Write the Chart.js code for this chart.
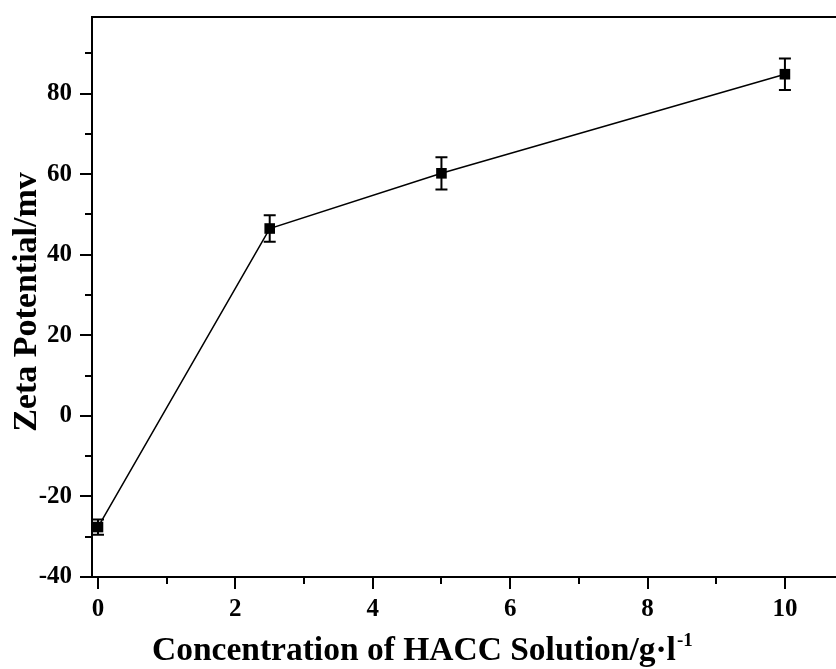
<!DOCTYPE html>
<html><head><meta charset="utf-8">
<script src="https://cdn.jsdelivr.net/npm/chart.js@4/dist/chart.umd.min.js"></script>
<style>html,body{margin:0;padding:0;overflow:hidden;background:#fff}#wrap{width:846px;height:669px;position:relative}</style>
</head><body><div id="wrap"><canvas id="c" width="846" height="669"></canvas></div>
<script>
const concentrations = [0, 2.5, 5, 10];
const zeta = [-27.6, 46.5, 60.2, 84.8];
const zetaErr = [1.9, 3.3, 4.0, 3.9];
const xTickValues = [0, 2, 4, 6, 8, 10];
const xMinorTicks = [1, 3, 5, 7, 9];
const yTickValues = [-40, -20, 0, 20, 40, 60, 80];
const yMinorTicks = [-30, -10, 10, 30, 50, 70, 90];
const xTitle = 'Concentration of HACC Solution/g\u00B7l';
const xTitleSup = '-1';
const yTitle = 'Zeta Potential/mv';

const FONT = '"Liberation Serif", "Times New Roman", serif';

const decor = {
  id: 'decor',
  beforeDatasetsDraw(chart) {
    const ctx = chart.ctx, xs = chart.scales.x, ys = chart.scales.y, a = chart.chartArea;
    ctx.save();
    ctx.strokeStyle = '#000';
    ctx.lineWidth = 2;
    // top border
    ctx.beginPath(); ctx.moveTo(a.left - 1, a.top); ctx.lineTo(a.right + 10, a.top); ctx.stroke();
    // ticks
    ctx.beginPath();
    xTickValues.forEach(v => { const p = Math.round(xs.getPixelForValue(v)); ctx.moveTo(p, a.bottom); ctx.lineTo(p, a.bottom + 12); });
    xMinorTicks.forEach(v => { const p = Math.round(xs.getPixelForValue(v)); ctx.moveTo(p, a.bottom); ctx.lineTo(p, a.bottom + 7); });
    yTickValues.forEach(v => { const p = Math.round(ys.getPixelForValue(v)); ctx.moveTo(a.left, p); ctx.lineTo(a.left - 12, p); });
    yMinorTicks.forEach(v => { const p = Math.round(ys.getPixelForValue(v)); ctx.moveTo(a.left, p); ctx.lineTo(a.left - 7, p); });
    ctx.stroke();
    // error bars
    ctx.lineWidth = 2;
    ctx.beginPath();
    concentrations.forEach((c, i) => {
      const px = xs.getPixelForValue(c);
      const top = ys.getPixelForValue(zeta[i] + zetaErr[i]);
      const bot = ys.getPixelForValue(zeta[i] - zetaErr[i]);
      ctx.moveTo(px, top); ctx.lineTo(px, bot);
      ctx.moveTo(px - 6, top); ctx.lineTo(px + 6, top);
      ctx.moveTo(px - 6, bot); ctx.lineTo(px + 6, bot);
    });
    ctx.stroke();
    ctx.restore();
  },
  afterDraw(chart) {
    const ctx = chart.ctx;
    ctx.save();
    ctx.fillStyle = '#000';
    // x title
    ctx.font = 'bold 33.5px ' + FONT;
    ctx.textAlign = 'left';
    ctx.textBaseline = 'alphabetic';
    const x0 = 152, base = 660;
    ctx.fillText(xTitle, x0, base);
    const w = ctx.measureText(xTitle).width;
    ctx.font = 'bold 19px ' + FONT;
    ctx.fillText(xTitleSup, x0 + w + 1, base - 14);
    // y title
    ctx.font = 'bold 34px ' + FONT;
    ctx.translate(27, 302);
    ctx.rotate(-Math.PI / 2);
    ctx.textAlign = 'center';
    ctx.textBaseline = 'middle';
    ctx.fillText(yTitle, 0, 0);
    ctx.restore();
  }
};

new Chart(document.getElementById('c'), {
  type: 'line',
  data: {
    datasets: [{
      data: concentrations.map((c, i) => ({ x: c, y: zeta[i] })),
      borderColor: '#000',
      borderWidth: 1.5,
      backgroundColor: '#000',
      pointStyle: 'rect',
      pointRadius: 7.5,
      pointBorderWidth: 0,
      pointBackgroundColor: '#000',
      tension: 0,
      clip: false
    }]
  },
  options: {
    responsive: false,
    animation: false,
    devicePixelRatio: 1,
    layout: { padding: { top: 17, right: 6, left: 0, bottom: 0 } },
    plugins: { legend: { display: false }, tooltip: { enabled: false } },
    scales: {
      x: {
        type: 'linear', min: -0.087, max: 10.78,
        afterFit: s => { s.height = 92; s.paddingLeft = 0; s.paddingRight = 0; },
        afterBuildTicks: s => { s.ticks = xTickValues.map(v => ({ value: v })); },
        grid: { display: false, drawTicks: false },
        border: { display: true, color: '#000', width: 2 },
        ticks: { padding: 18, color: '#000', font: { family: FONT, size: 25, weight: 'bold' }, maxRotation: 0, autoSkip: false }
      },
      y: {
        type: 'linear', min: -40, max: 99,
        afterFit: s => { s.width = 92; s.paddingTop = 0; s.paddingBottom = 0; },
        afterBuildTicks: s => { s.ticks = yTickValues.map(v => ({ value: v })); },
        grid: { display: false, drawTicks: false },
        border: { display: true, color: '#000', width: 2 },
        ticks: { padding: 20, color: '#000', font: { family: FONT, size: 25, weight: 'bold' }, autoSkip: false }
      }
    }
  },
  plugins: [decor]
});
</script>
</body></html>
